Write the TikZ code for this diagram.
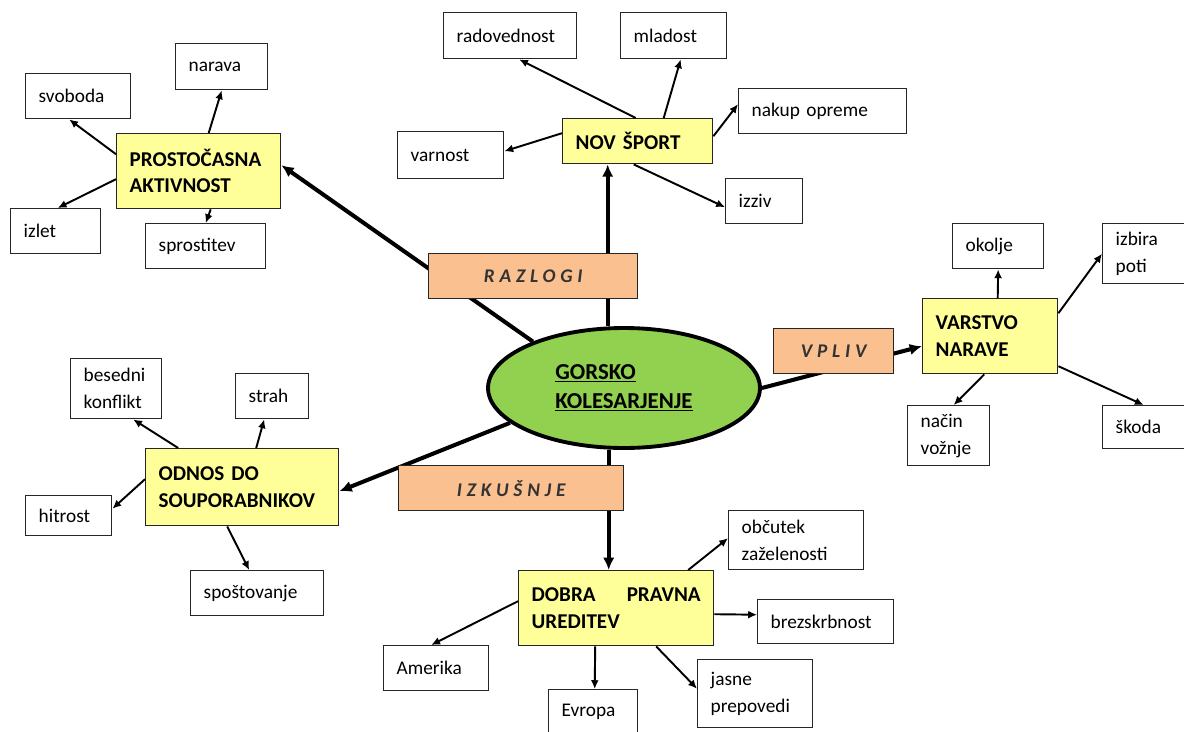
\documentclass[tikz,border=0pt]{standalone}
\usepackage{fontspec}
\setmainfont{Carlito}
\usepackage{xcolor}
\definecolor{topicfill}{RGB}{255,255,153}
\definecolor{linkfill}{RGB}{250,192,143}
\definecolor{corefill}{RGB}{146,208,80}
\usepackage{tikz}
\usetikzlibrary{arrows.meta,shapes.geometric,calc}
\hyphenpenalty=10000
\tikzstyle{leaf} = [draw=black!85,line width=0.8pt,fill=white,anchor=north west,align=left,inner xsep=0.26cm,inner ysep=0pt,font=\fontsize{11}{15.5}\selectfont]
\tikzstyle{topic} = [leaf,fill=topicfill,font=\fontsize{12}{15}\selectfont\bfseries]
\tikzstyle{linkbox} = [leaf,fill=linkfill,align=center,text=black!80,font=\fontsize{11}{13}\selectfont\bfseries\itshape\addfontfeature{LetterSpace=25}]
\tikzstyle{core} = [ellipse,draw,line width=2.2pt,fill=corefill,align=left,minimum width=5.44cm,minimum height=2.4cm,font=\fontsize{13}{16.5}\selectfont\bfseries]
\tikzstyle{hub} = [line width=2.3pt,-{Latex[length=7pt,width=6.5pt]}]
\tikzstyle{twig} = [line width=1.1pt,-{Latex[length=5pt,width=4.5pt]}]
\tikzset{dims/.code 2 args={%
    \pgfmathsetmacro\boxw{(#1-26)*0.02}\pgfmathsetmacro\boxh{#2*0.02}%
    \edef\dimsnext{\noexpand\tikzset{text width=\boxw cm,minimum height=\boxh cm}}\dimsnext}}

\begin{document}
\begin{tikzpicture}[x=0.02cm,y=-0.02cm]
    \path[use as bounding box,fill=white] (0,0) rectangle (1184,731);
    % centre
    \node[core] (core) at (624,388) {\underline{GORSKO}\\\underline{KOLESARJENJE}};
    % topics
    \node[topic,dims={150}{45}] (nov) at (562,118) {NOV ŠPORT};
    \node[topic,dims={164}{75}] (pro) at (116,133) {PROSTOČASNA\\AKTIVNOST};
    \node[topic,dims={135}{75}] (vst) at (922,298) {VARSTVO\\NARAVE};
    \node[topic,dims={193}{77}] (odn) at (145,448) {ODNOS DO\\SOUPORABNIKOV};
    \node[topic,dims={195}{75}] (dob) at (518,570) {DOBRA\hfill PRAVNA\\UREDITEV};
    % leaves
    \node[leaf,dims={133}{46}] (rad) at (443,12) {radovednost};
    \node[leaf,dims={106}{46}] (mla) at (620,12) {mladost};
    \node[leaf,dims={168}{45}] (nak) at (738,88) {nakup opreme};
    \node[leaf,dims={106}{47}] (varn) at (397,131) {varnost};
    \node[leaf,dims={77}{45}] (izz) at (725,178) {izziv};
    \node[leaf,dims={92}{46}] (nar) at (175,43) {narava};
    \node[leaf,dims={105}{45}] (svo) at (25,73) {svoboda};
    \node[leaf,dims={90}{45}] (izl) at (10,208) {izlet};
    \node[leaf,dims={120}{45}] (spr) at (145,223) {sprostitev};
    \node[leaf,dims={91}{45}] (okl) at (952,223) {okolje};
    \node[leaf,dims={90}{60}] (izb) at (1102,223) {izbira\\poti};
    \node[leaf,dims={82}{60}] (nac) at (907,405) {način\\vožnje};
    \node[leaf,dims={90}{43}] (sko) at (1102,405) {škoda};
    \node[leaf,dims={91}{60}] (bes) at (70,358) {besedni\\konflikt};
    \node[leaf,dims={73}{45}] (str) at (235,373) {strah};
    \node[leaf,dims={86}{40}] (hit) at (25,495) {hitrost};
    \node[leaf,dims={133}{45}] (spo) at (190,570) {spoštovanje};
    \node[leaf,dims={135}{59}] (obc) at (728,510) {občutek\\zaželenosti};
    \node[leaf,dims={136}{44}] (brz) at (757,599) {brezskrbnost};
    \node[leaf,dims={105}{45}] (ame) at (383,645) {Amerika};
    \node[leaf,dims={89}{44}] (evr) at (548,689) {Evropa};
    \node[leaf,dims={115}{68}] (jas) at (697,659) {jasne\\prepovedi};
    % main branches
    \coordinate (nsp) at ($(nov.south)+(-30,0)$);
    \coordinate (dnt) at ($(dob.north)+(-7.5,0)$);
    \draw[hub] (core.153) -- ($(pro.east)+(0,-6)$);
    \draw[hub] (nsp |- core.north) -- (nsp);
    \draw[hub] (core.east) -- ($(vst.west)+(0,10)$);
    \draw[hub] (core.197) -- ($(odn.east)+(0,4)$);
    \draw[hub] (dnt |- core.south) -- (dnt);
    \node[linkbox,dims={209}{45}] (razl) at (428,253) {RAZLOGI};
    \node[linkbox,dims={120}{45}] (vpl) at (773,328) {VPLIV};
    \node[linkbox,dims={225}{45}] (izk) at (398,465) {IZKUŠNJE};
    % twigs
    \draw[twig] ($(nov.north)+(-2,0)$) -- ($(rad.south)+(9,0)$);
    \draw[twig] ($(nov.north)+(26,0)$) -- ($(mla.south)+(7,0)$);
    \draw[twig] ($(nov.east)+(0,-5)$) -- ($(nak.west)+(0,-7)$);
    \draw[twig] ($(nov.west)+(0,-8)$) -- ($(varn.east)+(0,-4)$);
    \draw[twig] ($(nov.south)+(-4,0)$) -- ($(izz.west)+(0,6)$);
    \draw[twig] ($(pro.north)+(10,0)$) -- (nar.south);
    \draw[twig] ($(pro.west)+(0,-17)$) -- ($(svo.south)+(-9,0)$);
    \draw[twig] ($(pro.west)+(0,8)$) -- ($(izl.north)+(2,0)$);
    \draw[twig] ($(pro.south)+(12,0)$) -- (spr.north);
    \draw[twig] ($(vst.north)+(7.5,0)$) -- (okl.south);
    \draw[twig] ($(vst.east)+(0,-23)$) -- (izb.west);
    \draw[twig] ($(vst.south)+(-6,0)$) -- ($(nac.north)+(5,0)$);
    \draw[twig] ($(vst.east)+(0,30)$) -- ($(sko.north)+(-4,0)$);
    \draw[twig] ($(odn.north)+(-64,0)$) -- ($(bes.south)+(17,0)$);
    \draw[twig] ($(odn.north)+(14,0)$) -- ($(str.south)+(-8,0)$);
    \draw[twig] ($(odn.west)+(0,-8)$) -- ($(hit.east)+(0,-7)$);
    \draw[twig] ($(odn.south)+(-15,0)$) -- ($(spo.north)+(-8,0)$);
    \draw[twig] ($(dob.north)+(72,0)$) -- ($(obc.west)+(0,-2)$);
    \draw[twig] ($(dob.east)+(0,6)$) -- ($(brz.west)+(0,-7)$);
    \draw[twig] ($(dob.west)+(0,-7)$) -- ($(ame.north)+(-5,0)$);
    \draw[twig] ($(dob.south)+(-21,0)$) -- ($(evr.north)+(1.5,0)$);
    \draw[twig] ($(dob.south)+(40,0)$) -- ($(jas.west)+(0,-5)$);
\end{tikzpicture}
\end{document}
